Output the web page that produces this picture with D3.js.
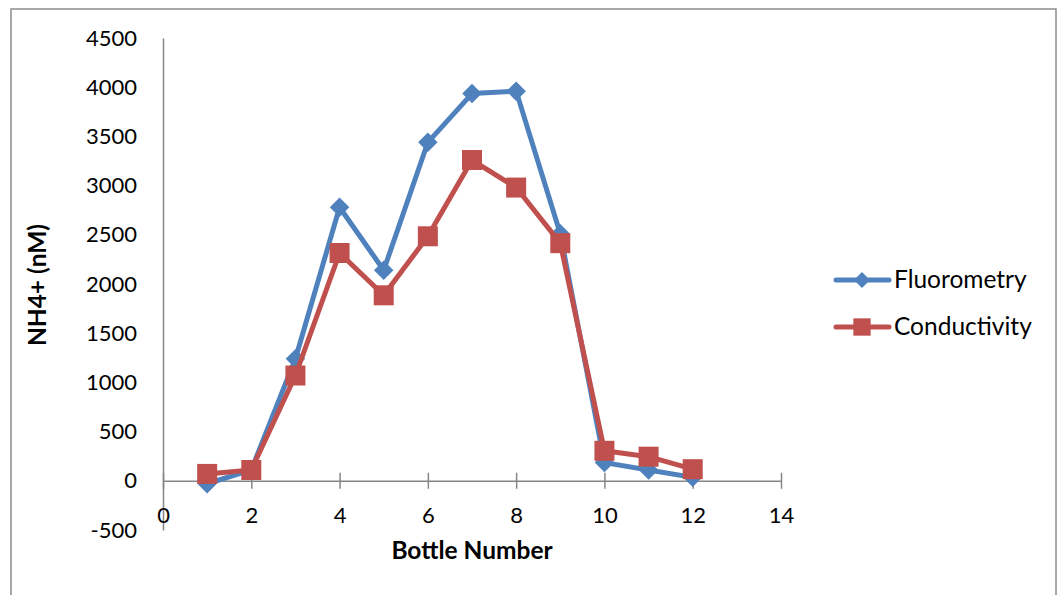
<!DOCTYPE html>
<html>
<head>
<meta charset="utf-8">
<script src="https://cdn.jsdelivr.net/npm/d3@7"></script>
<style>
  body { margin: 0; background: #fff; }
  text { font-family: Lato, "Open Sans", sans-serif; fill: #000; }
</style>
</head>
<body>
<svg id="chart" width="1060" height="595"></svg>
<script>
// chart values
var bottles = [1, 2, 3, 4, 5, 6, 7, 8, 9, 10, 11, 12];
var fluorometry = [-30, 110, 1240, 2780, 2140, 3440, 3935, 3960, 2510, 185, 110, 35];
var conductivity = [70, 110, 1070, 2315, 1885, 2485, 3260, 2980, 2415, 305, 245, 118];
var seriesNames = ["Fluorometry", "Conductivity"];
var seriesColors = ["#4F81BD", "#C0504D"];
var xTicks = [0, 2, 4, 6, 8, 10, 12, 14];
var yTicks = [-500, 0, 500, 1000, 1500, 2000, 2500, 3000, 3500, 4000, 4500];

var svg = d3.select("#chart");

// outer chart border
svg.append("rect")
  .attr("x", 11).attr("y", 9)
  .attr("width", 1045).attr("height", 600)
  .attr("fill", "none")
  .attr("stroke", "#8c8c8c")
  .attr("stroke-width", 1.5);

var x = d3.scaleLinear().domain([0, 14]).range([163, 781]);
var y = d3.scaleLinear().domain([-500, 4500]).range([530, 38]);

var axisColor = "#868686";

// y axis (no tick marks, labels only)
var yAxis = svg.append("g").attr("transform", "translate(" + x(0) + ",0)")
  .call(d3.axisLeft(y).tickValues(yTicks).tickSize(0).tickPadding(26)
    .tickFormat(function(d) { return String(d); }));
yAxis.select(".domain").attr("stroke", axisColor).attr("stroke-width", 1.5);
yAxis.selectAll("text").attr("font-size", 22).attr("font-family", "Lato, sans-serif");

// x axis at y = 0 with crossing ticks
var xAxis = svg.append("g").attr("transform", "translate(0," + y(0) + ")")
  .call(d3.axisBottom(x).tickValues(xTicks).tickSizeOuter(0).tickSizeInner(8).tickPadding(19));
xAxis.select(".domain").attr("stroke", axisColor).attr("stroke-width", 1.5);
xAxis.selectAll(".tick line").attr("stroke", axisColor).attr("stroke-width", 1.5).attr("y1", -8);
xAxis.selectAll("text").attr("font-size", 22).attr("font-family", "Lato, sans-serif");

// axis titles
svg.append("text")
  .attr("x", 472).attr("y", 559)
  .attr("text-anchor", "middle")
  .attr("font-size", 24.5).attr("font-weight", "bold")
  .text("Bottle Number");

svg.append("text")
  .attr("transform", "translate(46," + 285 + ") rotate(-90)")
  .attr("text-anchor", "middle")
  .attr("font-size", 24.5).attr("font-weight", "bold")
  .text("NH4+ (nM)");

var line = d3.line()
  .x(function(d) { return x(d[0]); })
  .y(function(d) { return y(d[1]); });

function drawseries(values, color, kind) {
  var pts = bottles.map(function(b, i) { return [b, values[i]]; });
  svg.append("path")
    .datum(pts)
    .attr("fill", "none")
    .attr("stroke", color)
    .attr("stroke-width", 5)
    .attr("stroke-linejoin", "round")
    .attr("d", line);
  var sym = kind == "diamond"
    ? d3.symbol().type(d3.symbolSquare).size(190)
    : d3.symbol().type(d3.symbolSquare).size(400);
  svg.append("g").selectAll("path")
    .data(pts)
    .enter().append("path")
      .attr("d", sym)
      .attr("fill", color)
      .attr("transform", function(d) {
        return "translate(" + x(d[0]) + "," + y(d[1]) + ")" + (kind == "diamond" ? " rotate(45)" : "");
      });
}

drawseries(fluorometry, seriesColors[0], "diamond");
drawseries(conductivity, seriesColors[1], "square");

// legend
var legendY = [280, 327];
var kinds = ["diamond", "square"];
for (var row = 0; row < seriesNames.length; row++) {
  var ly = legendY[row];
  svg.append("line")
    .attr("x1", 836).attr("x2", 889)
    .attr("y1", ly).attr("y2", ly)
    .attr("stroke", seriesColors[row])
    .attr("stroke-width", 5)
    .attr("stroke-linecap", "round");
  svg.append("path")
    .attr("d", d3.symbol().type(d3.symbolSquare).size(kinds[row] == "diamond" ? 130 : 300))
    .attr("fill", seriesColors[row])
    .attr("transform", "translate(862," + ly + ")" + (kinds[row] == "diamond" ? " rotate(45)" : ""));
  svg.append("text")
    .attr("x", 894).attr("y", ly + 8)
    .attr("font-size", 24.5)
    .text(seriesNames[row]);
}
</script>
</body>
</html>
